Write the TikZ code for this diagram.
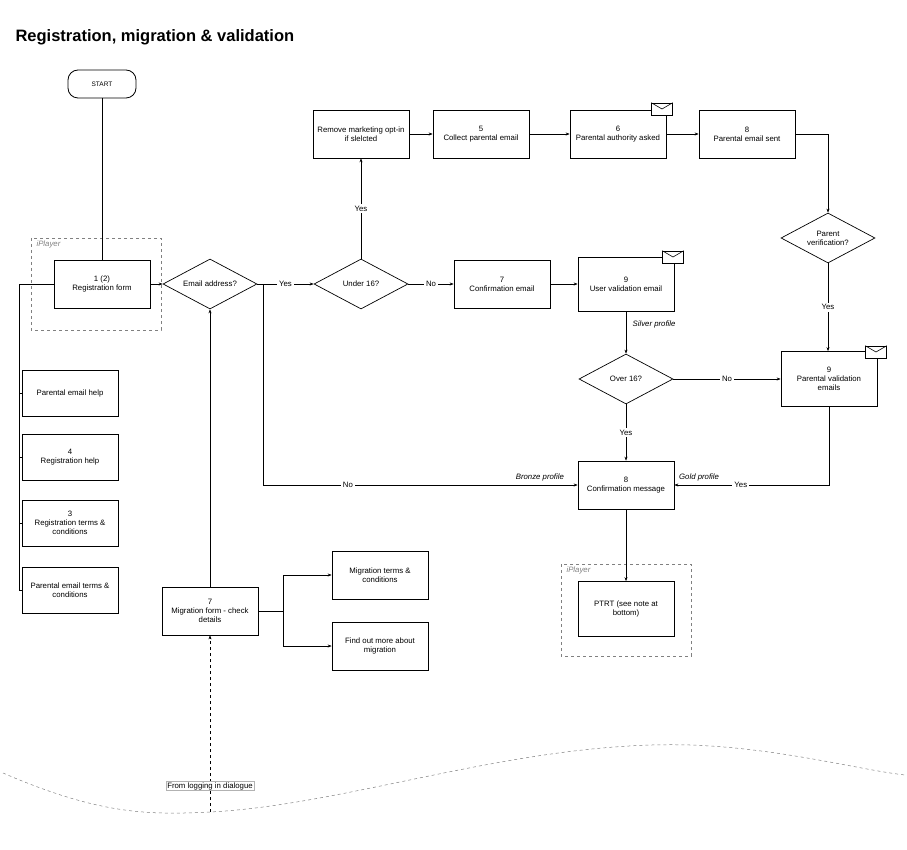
\documentclass[tikz,border=0pt]{standalone}
\usepackage{fontspec}
\setmainfont{Liberation Sans}
\usetikzlibrary{shapes.geometric,arrows.meta}
\begin{document}
\begin{tikzpicture}[x=1pt,y=-1pt,
  every node/.style={font=\fontsize{7.8}{9.2}\selectfont, align=center},
  box/.style={draw, line width=0.7pt, minimum width=96pt, minimum height=48pt, inner sep=2pt},
  dia/.style={draw, diamond, aspect=1.9, line width=0.7pt, minimum width=94pt, minimum height=50pt, inner sep=0pt},
  ln/.style={line width=0.6pt},
  ar/.style={ln, -{Stealth[length=4pt,width=3pt]}},
  lbl/.style={fill=white, inner sep=2pt},
  it/.style={font=\fontsize{7.8}{9.2}\selectfont\itshape},
  ipl/.style={draw=gray, dashed, line width=0.5pt},
  env/.style={draw, fill=white, line width=0.6pt, minimum width=21pt, minimum height=12pt, inner sep=0pt}]
\useasboundingbox (0,0) rectangle (907,850);
\node[anchor=west, font=\fontsize{16.5}{18}\selectfont\bfseries] (title) at (12,37) {Registration, migration \& validation};
% iPlayer frames
\draw[ipl] (31,238) rectangle (161,330);
\node[it, text=gray, anchor=west] (ip1) at (33,244) {iPlayer};
\draw[ipl] (561,564) rectangle (691,656);
\node[it, text=gray, anchor=west] (ip2) at (563,570) {iPlayer};
% nodes
\node[draw, rounded corners=10pt, line width=0.8pt, minimum width=68pt, minimum height=28pt, font=\fontsize{6.5}{7}\selectfont] (start) at (102,84) {START};
\node[box] (reg) at (102,284) {1 (2)\\Registration form};
\node[dia] (email) at (210,284) {Email address?};
\node[dia] (u16) at (361,284) {Under 16?};
\node[box] (remove) at (361,134) {Remove marketing opt-in\\if slelcted};
\node[box] (collect) at (481,134) {5\\Collect parental email};
\node[box] (auth) at (618,134) {6\\Parental authority asked};
\node[box] (sent) at (747,134) {8\\Parental email sent};
\node[dia] (pver) at (828,238) {Parent\\verification?};
\node[box, minimum height=55pt] (pval) at (829,379) {9\\Parental validation\\emails};
\node[box] (conf7) at (502,284) {7\\Confirmation email};
\node[box, minimum height=54pt] (uval) at (626,284) {9\\User validation email};
\node[dia] (o16) at (626,379) {Over 16?};
\node[box] (cmsg) at (626,485) {8\\Confirmation message};
\node[box, minimum height=55pt] (ptrt) at (626,609) {PTRT (see note at\\bottom)};
\node[box, minimum height=46pt] (h1) at (70,393) {Parental email help};
\node[box, minimum height=46pt] (h2) at (70,457) {4\\Registration help};
\node[box, minimum height=46pt] (h3) at (70,523) {3\\Registration terms \&\\conditions};
\node[box, minimum height=46pt] (h4) at (70,590) {Parental email  terms \&\\conditions};
\node[box] (mig) at (210,611) {7\\Migration form - check\\details};
\node[box] (migt) at (380,575) {Migration terms \&\\conditions};
\node[box] (migf) at (380,646) {Find out more about\\migration};
% envelopes
\node[env] (e1) at (662,109) {}; \draw[ln] (e1.north west) -- (e1.center) -- (e1.north east);
\node[env] (e2) at (673,257) {}; \draw[ln] (e2.north west) -- (e2.center) -- (e2.north east);
\node[env] (e3) at (876,352) {}; \draw[ln] (e3.north west) -- (e3.center) -- (e3.north east);
% connectors
\draw[ln] (start) -- (reg);
\draw[ar] (reg) -- (email);
\draw[ar] (email.east) -- node[lbl]{Yes} (u16.west);
\draw[ar] (u16.north) -- node[lbl]{Yes} (remove.south);
\draw[ar] (remove) -- (collect);
\draw[ar] (collect) -- (auth);
\draw[ar] (auth) -- (sent);
\draw[ar] (sent.east) -| (pver.north);
\draw[ar] (pver.south) -- node[lbl]{Yes} (pver.south |- pval.north);
\draw[ar] (u16.east) -- node[lbl]{No} (conf7.west);
\draw[ar] (conf7) -- (uval);
\draw[ar] (uval.south) -- node[it, right, pos=0.3, xshift=3pt]{Silver profile} (o16.north);
\draw[ar] (o16.east) -- node[lbl]{No} (o16.east -| pval.west);
\draw[ar] (o16.south) -- node[lbl]{Yes} (cmsg.north);
\coordinate (b1) at (263,284);
\coordinate (b2) at (263,485);
\draw[ar] (email.east) -- (b1) -- (b2) -- node[lbl, pos=0.27]{No} node[it, above, pos=0.88]{Bronze profile} (cmsg.west);
\coordinate (g1) at (829,485);
\draw[ar] (pval.south) -- (g1) -- node[lbl, pos=0.57]{Yes} node[it, above, pos=0.84]{Gold profile} (cmsg.east);
\draw[ar] (cmsg) -- (ptrt);
\coordinate (l1) at (19,284);
\coordinate (l2) at (19,590);
\draw[ln] (reg.west) -- (l1) -- (l2) -- (h4.west);
\draw[ln] (19,393) -- (h1.west);
\draw[ln] (19,457) -- (h2.west);
\draw[ln] (19,523) -- (h3.west);
\draw[ar] (mig.north) -- (email.south);
\coordinate (m1) at (283,611);
\draw[ln] (mig.east) -- (m1);
\draw[ar] (m1) |- (migt.west);
\draw[ar] (m1) |- (migf.west);
% bottom
\draw[gray, dashed, line width=0.5pt] (3,773) .. controls (100,815) and (150,815) .. (210,812) .. controls (350,805) and (520,740) .. (690,745) .. controls (780,748) and (860,770) .. (905,775);
\coordinate (fl) at (210,812);
\draw[ln, dashed, -{Stealth[length=4pt,width=3pt]}] (fl) -- (mig.south);
\node[draw=gray!60, fill=white, inner sep=1pt] (from) at (210,786) {From logging in dialogue};
\end{tikzpicture}
\end{document}
